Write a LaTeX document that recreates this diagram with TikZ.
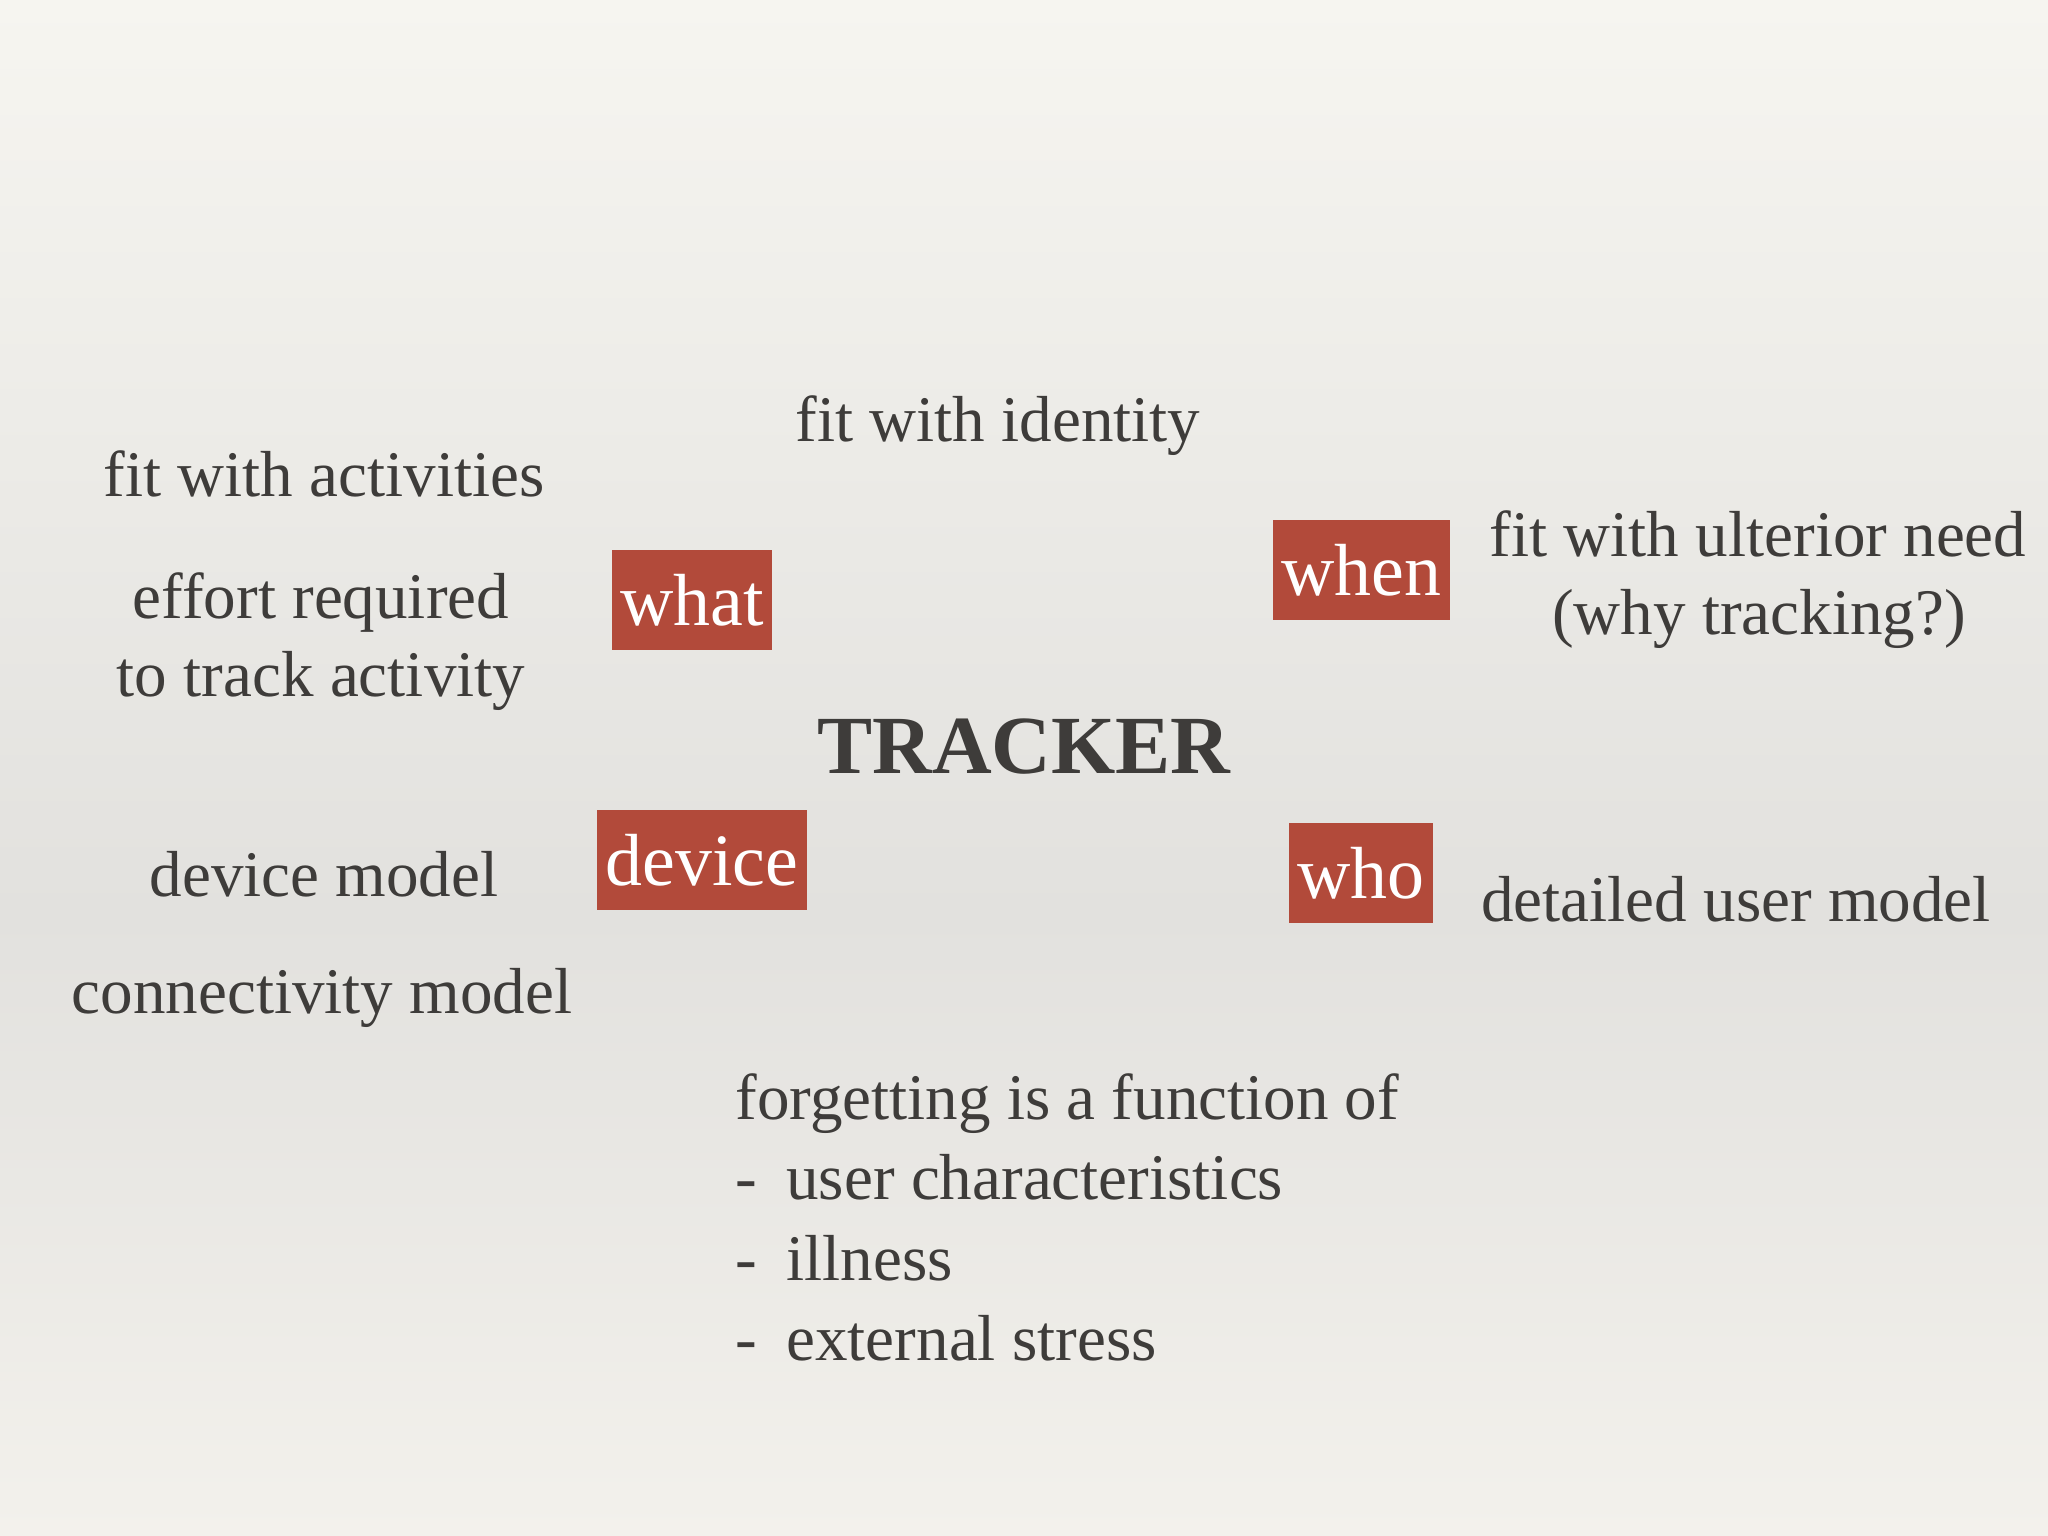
\documentclass[tikz,border=0pt]{standalone}
\usepackage{fontspec}
\setmainfont{Liberation Serif}
\usepackage{xcolor}

\definecolor{bgtop}{RGB}{246,245,240}
\definecolor{bgmid}{RGB}{226,225,222}
\definecolor{bgbot}{RGB}{243,241,236}
\definecolor{inkgrey}{RGB}{62,60,58}
\definecolor{tagred}{RGB}{178,74,58}

\tikzset{
  label text/.style={anchor=base, text=inkgrey, font=\fontsize{18.5}{24}\selectfont},
  tag/.style={fill=tagred, text=white, font=\fontsize{21}{24}\selectfont,
    minimum height=1cm, inner xsep=0.085cm},
}

\begin{document}
\begin{tikzpicture}[x=0.01cm, y=-0.01cm]
        % Paper background
        \useasboundingbox (0,0) rectangle (2048,1536);
        \shade[top color=bgtop, bottom color=bgmid] (0,0) rectangle (2048,915);
        \shade[top color=bgmid, bottom color=bgbot] (0,915) rectangle (2048,1536);

        % Centre title
        \node[anchor=base, text=inkgrey, font=\fontsize{23.5}{28}\selectfont\bfseries] (tracker) at (1024,773) {TRACKER};

        % Red tags round the title
        \node[tag] (what) at (692,600) {what};
        \node[tag] (when) at (1361,570) {when};
        \node[tag] (device) at (702,860) {device};
        \node[tag] (who) at (1361,873) {who};

        % Notes
        \node[label text] (identity) at (998,441) {fit with identity};
        \node[label text] (activities) at (324,496) {fit with activities};
        \node[label text] (effort) at (321,618) {effort required};
        \node[label text] (effort2) at (321,696) {to track activity};
        \node[label text] (ulterior) at (1758,556) {fit with ulterior need};
        \node[label text] (why) at (1759,634) {(why tracking?)};
        \node[label text] (devmodel) at (324,896) {device model};
        \node[label text] (connmodel) at (322,1013) {connectivity model};
        \node[label text] (usermodel) at (1736,921) {detailed user model};

        % Forgetting list
        \node[label text, anchor=base west] (forget) at (723,1119) {forgetting is a function of};
        \node[label text, anchor=base west] (dash1) at (723,1199) {-};
        \node[label text, anchor=base west] (item1) at (774,1199) {user characteristics};
        \node[label text, anchor=base west] (dash2) at (723,1280) {-};
        \node[label text, anchor=base west] (item2) at (774,1280) {illness};
        \node[label text, anchor=base west] (dash3) at (723,1360) {-};
        \node[label text, anchor=base west] (item3) at (774,1360) {external stress};
    \end{tikzpicture}
\end{document}
